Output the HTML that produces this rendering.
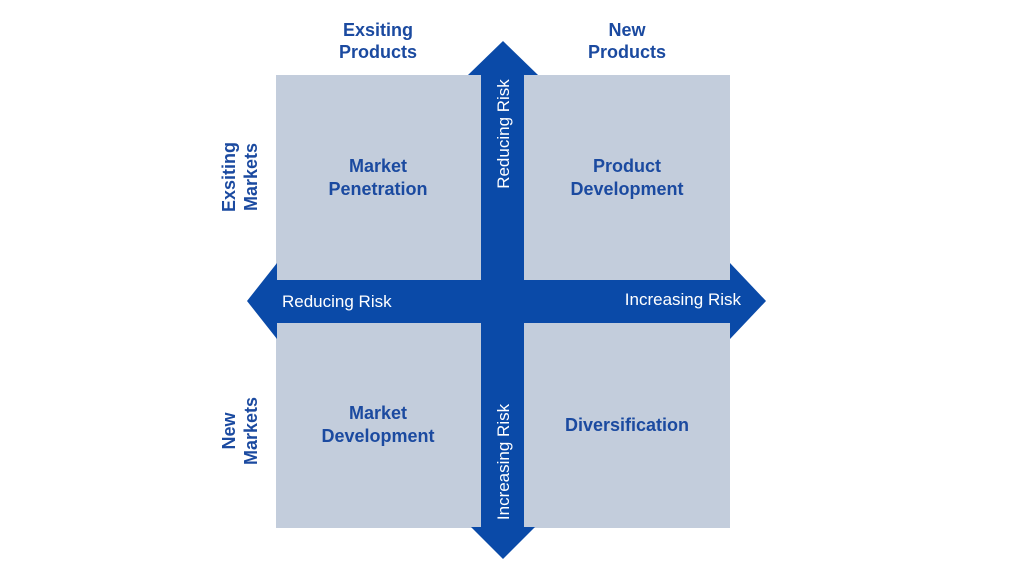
<!DOCTYPE html>
<html><head><meta charset="utf-8"><style>
html,body{margin:0;padding:0;background:#fff;width:1024px;height:576px;overflow:hidden}
svg{display:block}
text{font-family:"Liberation Sans",sans-serif}
.b{font-weight:bold;font-size:18px;fill:#1b4aa0}
.w{font-size:17px;fill:#fff}
</style></head><body>
<svg width="1024" height="576" viewBox="0 0 1024 576">
<rect x="276" y="75" width="205" height="205" fill="#c3cddc"/>
<rect x="524" y="75" width="206" height="205" fill="#c3cddc"/>
<rect x="276" y="323" width="205" height="205" fill="#c3cddc"/>
<rect x="524" y="323" width="206" height="205" fill="#c3cddc"/>
<g fill="#0a4aa8">
<rect x="481" y="74" width="43" height="454"/>
<rect x="276" y="280" width="454" height="43"/>
<polygon points="503,41 538,75 468,75"/>
<polygon points="503,559 535,527 471,527"/>
<polygon points="247,301 277,263 277,339"/>
<polygon points="766,301 730,263 730,339"/>
</g>
<g class="b" text-anchor="middle">
<text x="378" y="36">Exsiting</text><text x="378" y="58">Products</text>
<text x="627" y="36">New</text><text x="627" y="58">Products</text>
<text x="378" y="172">Market</text><text x="378" y="195">Penetration</text>
<text x="627" y="172">Product</text><text x="627" y="195">Development</text>
<text x="378" y="419">Market</text><text x="378" y="442">Development</text>
<text x="627" y="431">Diversification</text>
<text transform="translate(235,177) rotate(-90)">Exsiting</text>
<text transform="translate(257,177) rotate(-90)">Markets</text>
<text transform="translate(235,431) rotate(-90)">New</text>
<text transform="translate(257,431) rotate(-90)">Markets</text>
</g>
<g class="w">
<text x="282" y="307">Reducing Risk</text>
<text x="741" y="305" text-anchor="end">Increasing Risk</text>
<text transform="translate(509,134) rotate(-90)" text-anchor="middle">Reducing Risk</text>
<text transform="translate(509,462) rotate(-90)" text-anchor="middle">Increasing Risk</text>
</g>
</svg>
</body></html>
